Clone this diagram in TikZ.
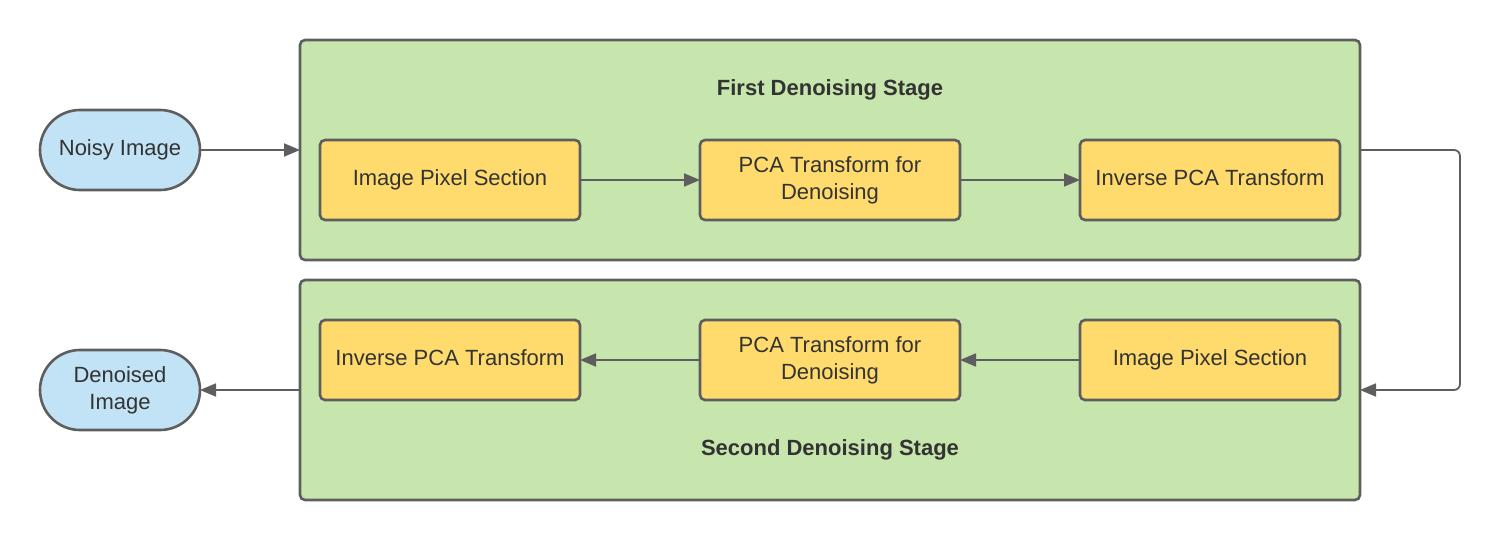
\documentclass[tikz,border=0pt]{standalone}
\usepackage{fontspec}
\setmainfont{Liberation Sans}
\usetikzlibrary{arrows.meta}
\definecolor{stagegreen}{HTML}{C7E6AD}
\definecolor{boxyellow}{HTML}{FFDB6E}
\definecolor{pillblue}{HTML}{C1E3F5}
\definecolor{edgegray}{HTML}{5E5E5E}
\definecolor{txt}{HTML}{333333}
\tikzset{
  stagebox/.style={draw=edgegray, fill=stagegreen, line width=2.6pt, rounded corners=5pt,
    minimum width=1060pt, minimum height=220pt, inner sep=0pt, outer sep=0pt},
  stepbox/.style={draw=edgegray, fill=boxyellow, line width=2.6pt, rounded corners=5pt,
    minimum width=260pt, minimum height=80pt, inner sep=0pt, outer sep=0pt, align=center,
    text=txt, font=\fontsize{22}{27}\selectfont},
  pill/.style={draw=edgegray, fill=pillblue, line width=2.6pt, rounded corners=40pt,
    minimum width=160pt, minimum height=80pt, inner sep=0pt, outer sep=0pt, align=center,
    text=txt, font=\fontsize{22}{27}\selectfont},
  oneline/.style={text height=16pt, text depth=5pt},
  stagetitle/.style={text=txt, font=\bfseries\fontsize{22}{27}\selectfont, oneline},
  arr/.style={draw=edgegray, line width=1.8pt, -{Triangle[length=16pt,width=13pt]}},
}
\begin{document}
\begin{tikzpicture}[x=1pt,y=-1pt]
\useasboundingbox (0,0) rectangle (1500,540);
\node[stagebox] (s1) at (830,150) {};
\node[stagebox] (s2) at (830,390) {};
\node[stagetitle] (t1) at (830,90) {First Denoising Stage};
\node[stagetitle] (t2) at (830,450) {Second Denoising Stage};
\node[pill, oneline] (noisy) at (120,150) {Noisy Image};
\node[pill] (den) at (120,390) {Denoised\\Image};
\node[stepbox, oneline] (a1) at (450,180) {Image Pixel Section};
\node[stepbox] (a2) at (830,180) {PCA Transform for\\Denoising};
\node[stepbox, oneline] (a3) at (1210,180) {Inverse PCA Transform};
\node[stepbox, oneline] (b1) at (1210,360) {Image Pixel Section};
\node[stepbox] (b2) at (830,360) {PCA Transform for\\Denoising};
\node[stepbox, oneline] (b3) at (450,360) {Inverse PCA Transform};
\draw[arr] (noisy) -- (s1.west);
\draw[arr] (a1) -- (a2);
\draw[arr] (a2) -- (a3);
\draw[arr, rounded corners=6pt] (s1.east) -- ++(100,0) |- (s2.east);
\draw[arr] (b1) -- (b2);
\draw[arr] (b2) -- (b3);
\draw[arr] (s2.west) -- (den);
\end{tikzpicture}
\end{document}
